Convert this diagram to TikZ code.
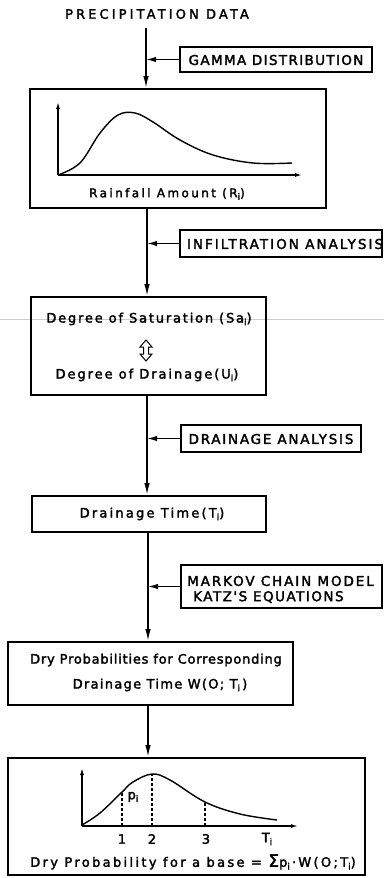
\documentclass[tikz,border=0pt]{standalone}
\usepackage{fontspec}
\setmainfont{DejaVu Sans}
\newfontfamily\txf{DejaVu Sans}[FakeBold=2.2]
\newcommand{\tf}[2]{\txf\fontsize{#1}{#1}\selectfont\addfontfeature{LetterSpace=#2}}
\usetikzlibrary{arrows.meta}
\newcommand{\lsub}[1]{\raisebox{-0.4ex}{\fontsize{9}{9}\selectfont #1}}
\begin{document}
\begin{tikzpicture}[x=1pt,y=-1pt,
  box/.style={draw,line width=1.8pt,inner sep=0pt,anchor=center},
  lab/.style={inner sep=0pt},
  arr/.style={line width=1.5pt,-{Latex[length=12pt,width=5.5pt]}},
  sarr/.style={line width=1.5pt,-{Latex[length=10pt,width=5.5pt]}},
  axis/.style={line width=1.3pt,-{Latex[length=7pt,width=4pt]}},
  curve/.style={line width=1.4pt},
  dsh/.style={line width=1.1pt,dashed,dash pattern=on 3pt off 2pt}]
\useasboundingbox (0,0) rectangle (384,878);
% faint scan line
\draw[gray!40,line width=0.8pt] (0,319) -- (384,319);

% title
\node[lab,font=\tf{13}{24}] (title) at (157,14) {PRECIPITATION DATA};

% boxes
\node[box,minimum width=192,minimum height=25] (gamma) at (276,59.5) {};
\node[lab,font=\tf{13.5}{10}] (gammat) at (276,60) {GAMMA DISTRIBUTION};
\node[box,minimum width=296,minimum height=119] (box1) at (178,148.5) {};
\node[box,minimum width=202,minimum height=27] (infil) at (281,243.5) {};
\node[lab,font=\tf{13.5}{15}] (infilt) at (285,244) {INFILTRATION ANALYSIS};
\node[box,minimum width=235,minimum height=98] (box2) at (148.5,346) {};
\node[box,minimum width=180,minimum height=27] (drain) at (271,438.5) {};
\node[lab,font=\tf{13.5}{13}] (draint) at (271,439) {DRAINAGE ANALYSIS};
\node[box,minimum width=234,minimum height=36] (box3) at (149,514) {};
\node[lab,font=\tf{13}{17}] (box3t) at (152,514) {Drainage Time(T\lsub{i})};
\node[box,minimum width=201,minimum height=43] (markov) at (281.5,586.5) {};
\node[lab,anchor=west,font=\tf{13.5}{14}] (mk1) at (187,581) {MARKOV CHAIN MODEL};
\node[lab,anchor=west,font=\tf{13.5}{11}] (mk2) at (193,597) {KATZ'S EQUATIONS};
\node[box,minimum width=285,minimum height=63] (box4) at (150.5,673.5) {};
\node[lab,font=\tf{13}{6}] (b4a) at (156,660) {Dry Probabilities for Corresponding};
\node[lab,font=\tf{13}{10}] (b4b) at (160,685) {Drainage Time\ W(O; T\lsub{i}\,)};
\node[box,minimum width=357,minimum height=117] (box5) at (186.5,816.5) {};

% box 1 graph
\coordinate (o1) at (58,175);
\draw[axis] (o1) -- (58,102);
\draw[axis] (o1) -- (302,175);
\draw[curve] plot[smooth,tension=0.6] coordinates {(58,175) (80,163) (100,133) (118,115) (135,113) (153,122) (180,140) (213,155) (253,163) (292,163)};
\node[lab,font=\tf{12}{20}] (rain) at (167,194) {Rainfall Amount (R\lsub{i})};

% box 2 contents
\node[lab,font=\tf{13}{14}] (sat) at (149,319) {Degree of Saturation (Sa\lsub{i})};
\draw[line width=1pt,fill=white] (146,340) -- (152,347) -- (148.5,347) -- (148.5,354) -- (152,354) -- (146,361) -- (140,354) -- (143.5,354) -- (143.5,347) -- (140,347) -- cycle;
\node[lab,font=\tf{13}{15}] (dra) at (147,375) {Degree of Drainage(U\lsub{i})};

% box 5 graph
\coordinate (o5) at (82,826);
\draw[axis] (o5) -- (82,768);
\draw[axis] (o5) -- (298,826);
\draw[curve] plot[smooth,tension=0.6] coordinates {(82,825) (100,813) (122,792) (133,782) (152,774) (170,780) (205,802) (240,814) (277,820)};
\draw[dsh] (122,826) -- (122,792);
\draw[dsh] (152,826) -- (152,774);
\draw[dsh] (205,826) -- (205,802);
\node[lab,font=\tf{13}{0}] (l1) at (122,839) {1};
\node[lab,font=\tf{13}{0}] (l2) at (152,839) {2};
\node[lab,font=\tf{13}{0}] (l3) at (206,839) {3};
\node[lab,font=\tf{13}{0}] (lt) at (267,839) {T\lsub{i}};
\node[lab,font=\tf{13}{0}] (lp) at (133,797) {p\lsub{i}};
\node[lab,font=\tf{13}{18}] (b5t) at (193,862) {Dry Probability for a base = {\fontsize{17}{17}\selectfont Σ}p\lsub{i}\,·\,W(O;T\lsub{i})};

% main flow
\coordinate (c0) at (146,28);
\coordinate (c1) at (147,0);
\coordinate (c2) at (148,0);
\draw[arr] (c0) -- (c0 |- box1.north);
\draw[sarr] (gamma.west) -- (gamma.west -| c0);
\draw[arr] (c1 |- box1.south) -- (c1 |- box2.north);
\draw[sarr] (infil.west) -- (infil.west -| c1);
\draw[arr] (c1 |- box2.south) -- (c1 |- box3.north);
\draw[sarr] (drain.west) -- (drain.west -| c1);
\draw[arr] (c2 |- box3.south) -- (c2 |- box4.north);
\draw[sarr] (markov.west) -- (markov.west -| c2);
\draw[arr] (c2 |- box4.south) -- (c2 |- box5.north);
\end{tikzpicture}
\end{document}
